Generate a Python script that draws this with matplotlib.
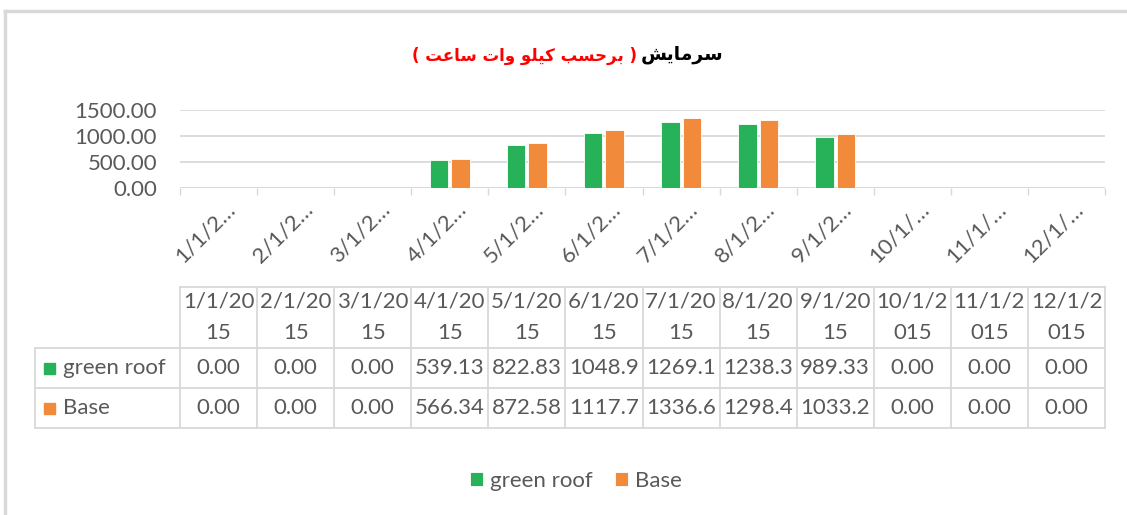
import numpy as np
import matplotlib
matplotlib.use("Agg")
import matplotlib.pyplot as plt
from matplotlib.transforms import blended_transform_factory, ScaledTranslation
from matplotlib.patches import Rectangle
from matplotlib.lines import Line2D

plt.rcParams['font.family'] = ['Lato', 'DejaVu Sans']

# ---------------- data ----------------
months = ["1/1/2015", "2/1/2015", "3/1/2015", "4/1/2015", "5/1/2015", "6/1/2015",
          "7/1/2015", "8/1/2015", "9/1/2015", "10/1/2015", "11/1/2015", "12/1/2015"]
axis_labels = ["1/1/2…", "2/1/2…", "3/1/2…", "4/1/2…", "5/1/2…", "6/1/2…",
               "7/1/2…", "8/1/2…", "9/1/2…", "10/1/…", "11/1/…", "12/1/…"]
green_roof = [0.00, 0.00, 0.00, 539.13, 822.83, 1048.9, 1269.1, 1238.3, 989.33, 0.00, 0.00, 0.00]
base = [0.00, 0.00, 0.00, 566.34, 872.58, 1117.7, 1336.6, 1298.4, 1033.2, 0.00, 0.00, 0.00]
series_names = ["green roof", "Base"]
yticks = [0, 500, 1000, 1500]
title_main = "سرمایش"
title_unit = "( برحسب \u06A9\u06CCلو وات ساعت )"

GREEN = "#27B25A"
ORANGE = "#F28A3B"
GRID = "#D9D9D9"
TXT = "#595959"
FS = 16

# --------------- simple Arabic shaping (presentation forms, visual order) ---------------
FORMS = {  # isolated, final, initial, medial
    '\u0627': ('\uFE8D', '\uFE8E', None, None),
    '\u0628': ('\uFE8F', '\uFE90', '\uFE91', '\uFE92'),
    '\u062A': ('\uFE95', '\uFE96', '\uFE97', '\uFE98'),
    '\u062D': ('\uFEA1', '\uFEA2', '\uFEA3', '\uFEA4'),
    '\u0631': ('\uFEAD', '\uFEAE', None, None),
    '\u0633': ('\uFEB1', '\uFEB2', '\uFEB3', '\uFEB4'),
    '\u0634': ('\uFEB5', '\uFEB6', '\uFEB7', '\uFEB8'),
    '\u0639': ('\uFEC9', '\uFECA', '\uFECB', '\uFECC'),
    '\u06A9': ('\uFB8E', '\uFB8F', '\uFB90', '\uFB91'),
    '\u0644': ('\uFEDD', '\uFEDE', '\uFEDF', '\uFEE0'),
    '\u0645': ('\uFEE1', '\uFEE2', '\uFEE3', '\uFEE4'),
    '\u0648': ('\uFEED', '\uFEEE', None, None),
    '\u06CC': ('\uFBFC', '\uFBFD', '\uFBFE', '\uFBFF'),
}


def shape(s):
    out = []
    for i, c in enumerate(s):
        if c not in FORMS:
            out.append(c)
            continue
        prev = s[i - 1] if i > 0 else ''
        nxt = s[i + 1] if i + 1 < len(s) else ''
        jp = prev in FORMS and FORMS[prev][2] is not None
        jn = nxt in FORMS and FORMS[c][2] is not None
        f = FORMS[c]
        if jp and jn:
            g = f[3]
        elif jp:
            g = f[1]
        elif jn:
            g = f[2]
        else:
            g = f[0]
        out.append(g)
    mirror = {'(': ')', ')': '('}
    return ''.join(mirror.get(ch, ch) for ch in reversed(out))


# ---------------- figure ----------------
W, H = 1127, 515
fig = plt.figure(figsize=(W / 100, H / 100), dpi=100)
fig.patch.set_facecolor("white")


def fx(px):
    return px / W


def fy(py):
    return 1 - py / H


# outer frame (top and left visible)
fig.add_artist(Line2D([fx(5), fx(1127)], [fy(11), fy(11)], color=GRID, lw=2.5))
fig.add_artist(Line2D([fx(5), fx(5)], [fy(11), fy(515)], color=GRID, lw=2.5))

# title
fig.text(fx(723), fy(55), shape(title_main), ha='right', va='center',
         fontsize=13.5, color='black', family='DejaVu Sans', fontweight='bold')
fig.text(fx(637), fy(56), shape(title_unit), ha='right', va='center',
         fontsize=12, color='#FF0000', family='DejaVu Sans', fontweight='bold')

# plot area
L, R = 180, 1105
ax = fig.add_axes([fx(L), fy(188), (R - L) / W, (188 - 110) / H])
n = len(months)
x = np.arange(n)
bw = 0.24
b1 = ax.bar(x - 0.14, green_roof, bw, color=GREEN, edgecolor='white', linewidth=0.6,
            label=series_names[0], zorder=3)
b2 = ax.bar(x + 0.14, base, bw, color=ORANGE, edgecolor='white', linewidth=0.6,
            label=series_names[1], zorder=3)
ax.set_xlim(-0.5, n - 0.5)
ax.set_ylim(0, 1500)
for s in ax.spines.values():
    s.set_visible(False)
ax.set_yticks(yticks)
ax.set_yticklabels([f"{v:.2f}" for v in yticks], fontsize=FS, color=TXT)
ax.tick_params(axis='y', length=0, pad=16.5)
ax.yaxis.grid(True, color=GRID, lw=1.3, zorder=0)
ax.set_axisbelow(True)
ax.set_xticks(np.arange(n + 1) - 0.5)
ax.set_xticklabels([])
ax.tick_params(axis='x', length=5, width=1.0, color=GRID)
ax.axhline(0, color=GRID, lw=1.3, zorder=1)

# rotated category labels
trans = blended_transform_factory(ax.transData, fig.transFigure) + \
    ScaledTranslation(-13 / 100, 0, fig.dpi_scale_trans)
for i, lab in enumerate(axis_labels):
    ax.text(i, fy(233), lab, transform=trans, rotation=45, ha='center', va='center',
            fontsize=FS, color=TXT)

# data table
T0, T1, T2, T3 = 287, 348, 388, 428
tax = fig.add_axes([fx(L), fy(T3), (R - L) / W, (T3 - T0) / H])
tax.set_xlim(-0.5, n - 0.5)
tax.set_ylim(T3, T0)
tax.axis('off')
cw = (R - L) / n
xl = -0.5 - (L - 35) / cw
lk = dict(color=GRID, lw=1.3, clip_on=False)
tax.plot([-0.5, n - 0.5], [T0, T0], **lk)
for yy in (T1, T2, T3):
    tax.plot([xl, n - 0.5], [yy, yy], **lk)
tax.plot([xl, xl], [T1, T3], **lk)
for k in range(n + 1):
    tax.plot([k - 0.5, k - 0.5], [T0, T3], **lk)

for i, m in enumerate(months):
    top, bot = m[:6], m[6:]
    tax.text(i, 302, top, ha='center', va='center', fontsize=FS, color=TXT)
    tax.text(i, 333, bot, ha='center', va='center', fontsize=FS, color=TXT)


def fmt(v):
    return f"{v:.1f}" if v >= 1000 else f"{v:.2f}"


rows = [(green_roof, GREEN, (T1 + T2) / 2), (base, ORANGE, (T2 + T3) / 2)]
for (vals, col, yc), name in zip(rows, series_names):
    for i, v in enumerate(vals):
        tax.text(i, yc, fmt(v), ha='center', va='center', fontsize=FS, color=TXT)
    sq = 11 / cw
    tax.add_patch(Rectangle((xl + 9 / cw, yc - 5.5), sq, 11, color=col, clip_on=False))
    tax.text(xl + 28 / cw, yc, name, ha='left', va='center', fontsize=FS, color=TXT,
             clip_on=False)

# legend
fig.legend(handles=[b1, b2], labels=series_names, loc='center',
           bbox_to_anchor=(fx(576), fy(481)), ncol=2, frameon=False,
           fontsize=FS, labelcolor=TXT, handlelength=0.6, handleheight=0.6,
           handletextpad=0.3, columnspacing=1.0)

fig.savefig("out.png", dpi=100, facecolor="white")
